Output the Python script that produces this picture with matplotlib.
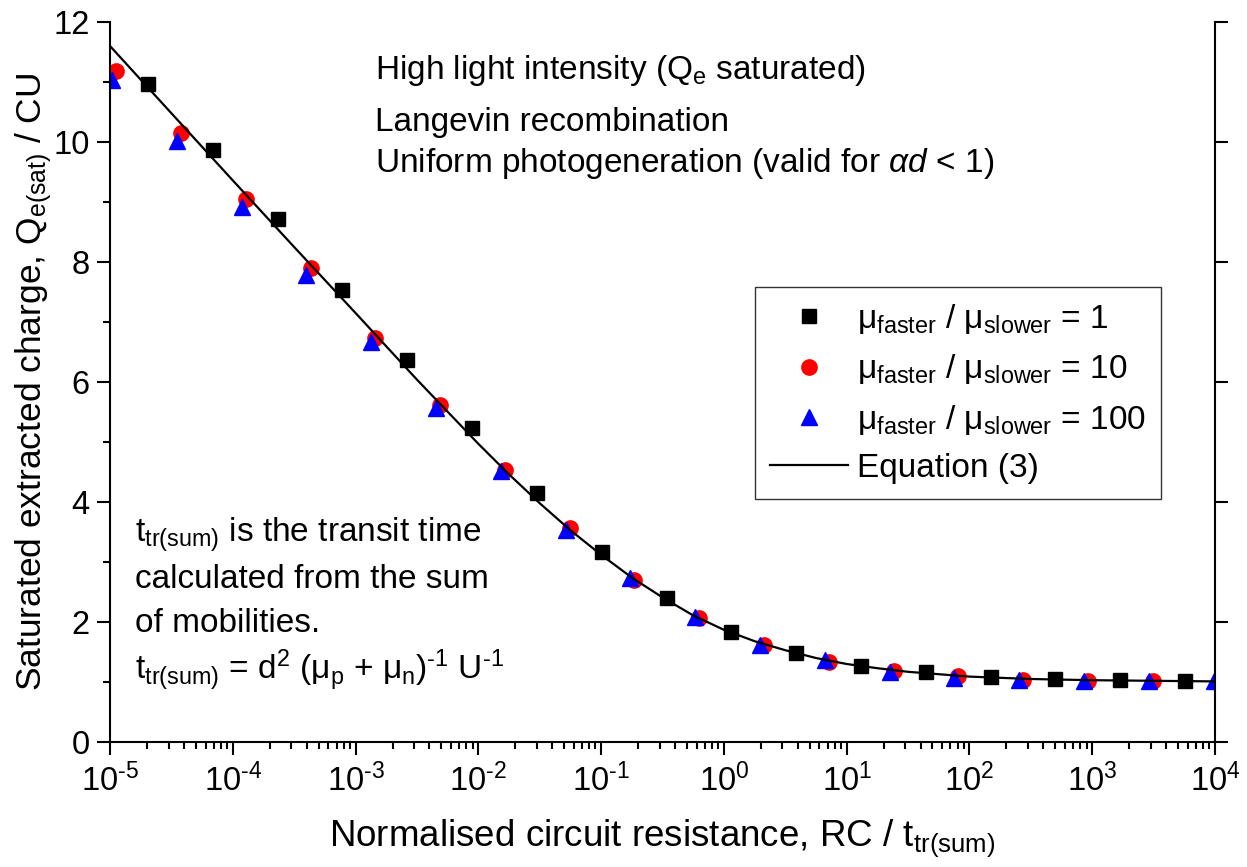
import numpy as np
import matplotlib
matplotlib.use('Agg')
import matplotlib.pyplot as plt
from matplotlib.ticker import LogLocator, MultipleLocator, FuncFormatter, NullFormatter

plt.rcParams['font.family'] = ['Liberation Sans', 'DejaVu Sans']
plt.rcParams['mathtext.fontset'] = 'custom'
plt.rcParams['mathtext.rm'] = 'Liberation Sans'
plt.rcParams['mathtext.it'] = 'Liberation Sans:italic'
plt.rcParams['mathtext.bf'] = 'Liberation Sans:bold'
plt.rcParams['mathtext.default'] = 'regular'

# mu_faster / mu_slower = 1
sq_x = [2.04e-5, 6.88e-5, 2.32e-4, 7.82e-4, 2.64e-3, 8.89e-3, 3.00e-2, 0.101, 0.341,
        1.15, 3.88, 13.1, 44.1, 149, 501, 1690, 5700]
sq_y = [10.97, 9.87, 8.72, 7.53, 6.37, 5.23, 4.15, 3.17, 2.40,
        1.84, 1.48, 1.27, 1.16, 1.09, 1.05, 1.03, 1.02]

# mu_faster / mu_slower = 10
circ_x = [1.12e-5, 3.78e-5, 1.27e-4, 4.30e-4, 1.45e-3, 4.88e-3, 1.65e-2, 5.54e-2, 0.187,
          0.630, 2.13, 7.16, 24.2, 81.3, 274, 926, 3120]
circ_y = [11.19, 10.15, 9.05, 7.90, 6.74, 5.62, 4.53, 3.56, 2.70,
          2.06, 1.62, 1.34, 1.19, 1.10, 1.04, 1.02, 1.01]

# mu_faster / mu_slower = 100
tri_x = [1.04e-5, 3.50e-5, 1.18e-4, 3.98e-4, 1.34e-3, 4.52e-3, 1.52e-2, 5.13e-2, 0.173,
         0.583, 1.97, 6.63, 22.4, 75.3, 254, 857, 2890, 9730]
tri_y = [11.03, 10.01, 8.92, 7.79, 6.66, 5.57, 4.52, 3.53, 2.73,
         2.09, 1.62, 1.37, 1.17, 1.07, 1.03, 1.02, 1.01, 1.01]

# Equation (3)
eq_x = [1e-5, 3.16e-5, 1e-4, 3.16e-4, 1e-3, 3.16e-3, 1e-2, 1.78e-2, 3.16e-2, 5.62e-2,
        0.1, 0.178, 0.316, 0.562, 1.0, 1.78, 3.16, 5.62, 10, 17.8, 31.6, 100, 316,
        1000, 3160, 1e4]
eq_y = [11.60, 10.48, 9.36, 8.25, 7.15, 6.04, 4.97, 4.46, 3.98, 3.53,
        3.12, 2.74, 2.41, 2.11, 1.87, 1.68, 1.53, 1.40, 1.30, 1.23, 1.17, 1.09, 1.05,
        1.03, 1.02, 1.01]

x_decades = list(range(-5, 5))

fig = plt.figure(figsize=(12.47, 8.67), dpi=100)
ax = fig.add_axes([110 / 1247, 1 - 742 / 867, 1105 / 1247, 720 / 867])

ax.plot(circ_x, circ_y, 'o', color='red', markersize=11, label=r'μ$_{faster}$ / μ$_{slower}$ = 10')
ax.plot(tri_x, tri_y, '^', color='blue', markersize=12, label=r'μ$_{faster}$ / μ$_{slower}$ = 100')
ax.plot(sq_x, sq_y, 's', color='black', markersize=10, label=r'μ$_{faster}$ / μ$_{slower}$ = 1')
ax.plot(eq_x, eq_y, '-', color='black', linewidth=1.6, label='Equation (3)')

ax.set_xscale('log')
ax.set_xlim(1e-5, 1e4)
ax.set_ylim(0, 12)

ax.set_xticks([10.0 ** n for n in x_decades])
ax.xaxis.set_minor_locator(LogLocator(base=10, subs=np.arange(2, 10), numticks=20))
ax.xaxis.set_minor_formatter(NullFormatter())


def fmt_pow(v, pos):
    n = int(round(np.log10(v)))
    if n < 0:
        return r'$10^{\text{-}%d}$' % (-n)
    return r'$10^{%d}$' % n


ax.xaxis.set_major_formatter(FuncFormatter(fmt_pow))
ax.yaxis.set_major_locator(MultipleLocator(2))
ax.yaxis.set_minor_locator(MultipleLocator(1))

ax.spines['top'].set_visible(False)
for s in ['left', 'right', 'bottom']:
    ax.spines[s].set_linewidth(1.5)
ax.tick_params(which='both', direction='out', width=1.5, labelsize=23.5)
ax.tick_params(which='major', length=9.5)
ax.tick_params(which='minor', length=5)
ax.tick_params(axis='x', top=False, pad=6)
ax.tick_params(axis='y', right=True, labelright=False, pad=5)

ax.set_xlabel(r'Normalised circuit resistance, RC / t$_{tr(sum)}$', fontsize=26.5)
ax.set_ylabel(r'Saturated extracted charge, Q$_{e(sat)}$ / CU', fontsize=25.5)
ax.xaxis.set_label_coords(0.5, -0.105)
ax.yaxis.set_label_coords(-0.051, 0.5)

def axpos(px, py):
    return (px - 110) / 1105, (742 - py) / 720

fs = 24
ax.text(*axpos(375, 79), r'High light intensity (Q$_e$ saturated)', fontsize=fs,
        transform=ax.transAxes, va='baseline')
ax.text(*axpos(375, 131), 'Langevin recombination', fontsize=fs,
        transform=ax.transAxes, va='baseline')
ax.text(*axpos(375, 172), r'Uniform photogeneration (valid for $\mathit{\alpha d}$ < 1)', fontsize=fs,
        transform=ax.transAxes, va='baseline')

ax.text(*axpos(135, 542), r't$_{tr(sum)}$ is the transit time', fontsize=fs,
        transform=ax.transAxes, va='baseline')
ax.text(*axpos(135, 588), 'calculated from the sum', fontsize=fs,
        transform=ax.transAxes, va='baseline')
ax.text(*axpos(135, 632), 'of mobilities.', fontsize=fs,
        transform=ax.transAxes, va='baseline')
ax.text(*axpos(135, 680), r't$_{tr(sum)}$ = d$^2$ (μ$_p$ + μ$_n$)$^{\text{-}1}$ U$^{\text{-}1}$', fontsize=fs,
        transform=ax.transAxes, va='baseline')

handles, labels = ax.get_legend_handles_labels()
order = [2, 0, 1, 3]
leg = ax.legend([handles[i] for i in order], [labels[i] for i in order],
                loc='upper left', bbox_to_anchor=(755 / 1247, 1 - 287 / 867),
                bbox_transform=fig.transFigure, fontsize=fs, frameon=True,
                fancybox=False, edgecolor='black', borderaxespad=0, borderpad=0.45,
                handlelength=2.35, handletextpad=0.25, labelspacing=0.49)
leg.get_frame().set_linewidth(1.0)

fig.savefig('out.png', dpi=100)
